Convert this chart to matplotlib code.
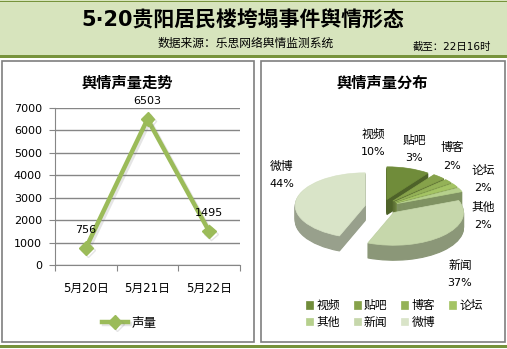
import matplotlib
matplotlib.use('Agg')
import matplotlib.pyplot as plt
from matplotlib.patches import Rectangle
import matplotlib.patheffects as pe
import matplotlib.colors as mcolors
import numpy as np

plt.rcParams['font.family'] = ['DejaVu Sans', 'Noto Sans CJK SC']

# ---------------- data ----------------
title = "5·20贵阳居民楼垮塌事件舆情形态"
source = "数据来源：乐思网络舆情监测系统"
cutoff = "截至：22日16时"

trend_title = "舆情声量走势"
dates = ["5月20日", "5月21日", "5月22日"]
volume = [756, 6503, 1495]
series_name = "声量"
y_ticks = [0, 1000, 2000, 3000, 4000, 5000, 6000, 7000]

dist_title = "舆情声量分布"
channels = ["视频", "贴吧", "博客", "论坛", "其他", "新闻", "微博"]
shares = [10, 3, 2, 2, 2, 37, 44]

# ---------------- styles ----------------
top_colors = ['#708c3a', '#86a24a', '#94b257', '#a4c464', '#b6d08c', '#c6d7ab', '#d9e4c8']
side_colors = [tuple(c * 0.70 for c in mcolors.to_rgb(col)) for col in top_colors]
cjk = ['Noto Sans CJK SC', 'DejaVu Sans']

W, H = 507, 349
fig = plt.figure(figsize=(W / 100, H / 100), dpi=100)
fig.patch.set_facecolor('white')


def fx(x):
    return x / W


def fy(y):
    return 1 - y / H


def box(x0, y0, x1, y1):
    return [fx(x0), fy(y1), (x1 - x0) / W, (y1 - y0) / H]


# overlay for decoration & text (pixel coordinates)
ov = fig.add_axes([0, 0, 1, 1], zorder=0)
ov.set_xlim(0, W)
ov.set_ylim(H, 0)
ov.axis('off')

ov.add_patch(Rectangle((0, 0), W, 55, facecolor='#d7e4bd', edgecolor='none'))
ov.add_patch(Rectangle((0, 0.5), W, 1.5, facecolor='#77933c', edgecolor='none'))
ov.add_patch(Rectangle((0, 55), W, 3, facecolor='#77933c', edgecolor='none'))
ov.add_patch(Rectangle((0, 345), W, 3, facecolor='#77933c', edgecolor='none'))
for x0, x1 in [(2, 254), (261, 505)]:
    ov.add_patch(Rectangle((x0, 61), x1 - x0, 342 - 61, facecolor='white',
                           edgecolor='#7f7f7f', linewidth=1.2))

ov.text(242.5, 20, title, fontsize=15, fontweight='bold', ha='center', va='center')
ov.text(246, 43, source, fontsize=8.5, ha='center', va='center', family=cjk)
ov.text(452, 47, cutoff, fontsize=7.5, ha='center', va='center')

# ---------------- left: line chart ----------------
ov.text(127, 83, trend_title, fontsize=11, fontweight='bold', family=cjk,
        ha='center', va='center')

ax = fig.add_axes(box(55, 108, 240, 265), zorder=1)
ax.set_facecolor('none')
x = np.arange(len(dates))
line, = ax.plot(x, volume, color='#9bbb59', lw=3.2, marker='D', ms=7,
                mfc='#9bbb59', mec='#9bbb59', clip_on=False, zorder=3,
                path_effects=[pe.SimpleLineShadow(offset=(1.5, -1.5), alpha=0.2,
                                                  shadow_color='gray'), pe.Normal()])
ax.set_xlim(-0.5, len(dates) - 0.5)
ax.set_ylim(0, 7000)
ax.set_yticks(y_ticks)
ax.grid(axis='y', color='#868686', lw=1)
ax.set_axisbelow(True)
for s in ['top', 'right']:
    ax.spines[s].set_visible(False)
for s in ['left', 'bottom']:
    ax.spines[s].set_color('#868686')
ax.tick_params(axis='y', length=4, color='#868686', labelsize=8, pad=5.5)
ax.set_xticks(np.arange(-0.5, len(dates), 1))
ax.set_xticks(x, minor=True)
ax.set_xticklabels(dates, minor=True)
ax.tick_params(axis='x', which='major', length=4, color='#868686', labelbottom=False)
ax.tick_params(axis='x', which='minor', length=0, labelsize=8.5, pad=12)
for xi, v in zip(x, volume):
    ax.annotate(str(v), (xi, v), xytext=(0, 13), textcoords='offset points',
                ha='center', va='center', fontsize=8)
ax.legend([line], [series_name], loc='center', bbox_to_anchor=(fx(129), fy(323)),
          bbox_transform=fig.transFigure, frameon=False, fontsize=9,
          handlelength=2.1, handletextpad=0.3)

# ---------------- right: pseudo-3D pie ----------------
ov.text(382, 83, dist_title, fontsize=11, fontweight='bold', family=cjk,
        ha='center', va='center')

pax = fig.add_axes(box(262, 63, 504, 341), zorder=1)
pax.set_facecolor('none')
cx, cy, Rx, Ry = 381.7, 207.0, 70.0, 32.7
explode = [0.24] * len(shares)
depth = 15
for k in range(depth, 0, -1):
    ws, _ = pax.pie(shares, explode=explode, startangle=90, counterclock=False,
                    colors=side_colors, center=(0, -k / Ry),
                    wedgeprops=dict(linewidth=0.8))
    for w in ws:
        w.set_edgecolor(w.get_facecolor())
wedges, _ = pax.pie(shares, explode=explode, startangle=90, counterclock=False,
                    colors=top_colors, center=(0, 0), wedgeprops=dict(linewidth=0.5))
for w in wedges:
    w.set_edgecolor(w.get_facecolor())
pax.set_aspect('auto')
pax.set_xlim((262 - cx) / Rx, (504 - cx) / Rx)
pax.set_ylim((cy - 341) / Ry, (cy - 63) / Ry)
pax.axis('off')

label_pos = [(373, 134), (414, 140), (452, 148), (483, 170), (483, 207), (460, 265), (282, 166)]
for (lx, ly), name, v in zip(label_pos, channels, shares):
    ov.text(lx, ly, name, fontsize=8.5, ha='center', va='center', family=cjk)
    ov.text(lx, ly + 18, f"{v}%", fontsize=8, ha='center', va='center')

order = [0, 4, 1, 5, 2, 6, 3]
pax.legend([wedges[i] for i in order], [channels[i] for i in order], ncol=4,
           loc='upper left', bbox_to_anchor=(fx(306), fy(299)),
           bbox_transform=fig.transFigure, frameon=False, fontsize=8.5,
           handlelength=0.6, handleheight=0.6, handletextpad=0.25,
           columnspacing=1.2, labelspacing=0.3, borderpad=0, borderaxespad=0)

fig.savefig('out.png', dpi=100)
